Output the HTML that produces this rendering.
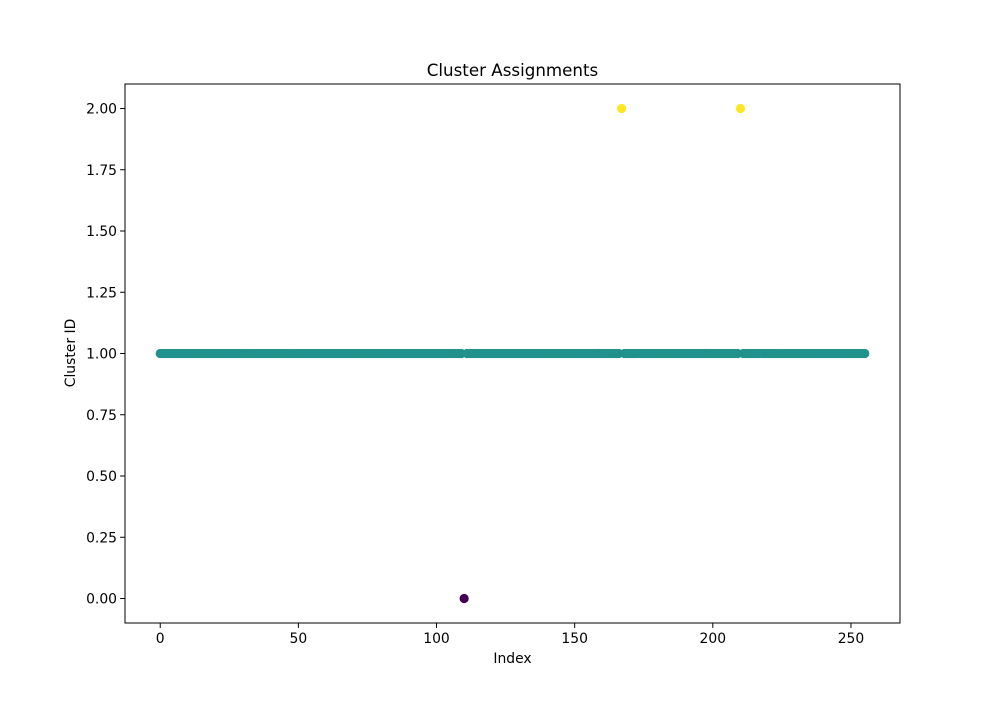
<!DOCTYPE html>
<html><head><meta charset="utf-8"><style>
body{margin:0;background:#fff;}
svg text{font-family:"DejaVu Sans","Liberation Sans",sans-serif;fill:#000;}
</style></head><body>
<svg id="chart" width="1000" height="700" xmlns="http://www.w3.org/2000/svg">
<rect width="1000" height="700" fill="#fff"/>
<text x="512.5" y="76" font-size="16.7" text-anchor="middle">Cluster Assignments</text>
<g id="marks"></g>
<g id="axes"></g>
<text x="512.5" y="663" font-size="13.9" text-anchor="middle">Index</text>
<text transform="translate(75,353) rotate(-90)" font-size="13.9" text-anchor="middle">Cluster ID</text>
</svg>
<script>
const labels = [
1,1,1,1,1,1,1,1,1,1,
1,1,1,1,1,1,1,1,1,1,
1,1,1,1,1,1,1,1,1,1,
1,1,1,1,1,1,1,1,1,1,
1,1,1,1,1,1,1,1,1,1,
1,1,1,1,1,1,1,1,1,1,
1,1,1,1,1,1,1,1,1,1,
1,1,1,1,1,1,1,1,1,1,
1,1,1,1,1,1,1,1,1,1,
1,1,1,1,1,1,1,1,1,1,
1,1,1,1,1,1,1,1,1,1,
0,1,1,1,1,1,1,1,1,1,
1,1,1,1,1,1,1,1,1,1,
1,1,1,1,1,1,1,1,1,1,
1,1,1,1,1,1,1,1,1,1,
1,1,1,1,1,1,1,1,1,1,
1,1,1,1,1,1,1,2,1,1,
1,1,1,1,1,1,1,1,1,1,
1,1,1,1,1,1,1,1,1,1,
1,1,1,1,1,1,1,1,1,1,
1,1,1,1,1,1,1,1,1,1,
2,1,1,1,1,1,1,1,1,1,
1,1,1,1,1,1,1,1,1,1,
1,1,1,1,1,1,1,1,1,1,
1,1,1,1,1,1,1,1,1,1,
1,1,1,1,1,1];
const xTicks = [0,50,100,150,200,250];
const yTicks = [0,0.25,0.5,0.75,1,1.25,1.5,1.75,2];
const clusterColors = ["#440154","#21918c","#fde725"];

const L=125,R=900,T=84,B=623;
const n=labels.length;
const xmin=-(n-1)*0.05, xmax=(n-1)*1.05;
const ymin=Math.min(...labels), ymax=Math.max(...labels);
const yr=ymax-ymin||1;
const y0=ymin-yr*0.05, y1=ymax+yr*0.05;
const X=v=>L+(v-xmin)/(xmax-xmin)*(R-L);
const Y=v=>B-(v-y0)/(y1-y0)*(B-T);
const NS="http://www.w3.org/2000/svg";
const marks=document.getElementById('marks');
labels.forEach((c,i)=>{
  const e=document.createElementNS(NS,'circle');
  e.setAttribute('cx',X(i));e.setAttribute('cy',Y(c));e.setAttribute('r',4.6);
  e.setAttribute('fill',clusterColors[c]);
  
  
  marks.appendChild(e);
});
const axes=document.getElementById('axes');
const fr=document.createElementNS(NS,'rect');
fr.setAttribute('x',L);fr.setAttribute('y',T);fr.setAttribute('width',R-L);fr.setAttribute('height',B-T);
fr.setAttribute('fill','none');fr.setAttribute('stroke','#000');fr.setAttribute('stroke-width','1');


axes.appendChild(fr);
xTicks.forEach(t=>{
  const x=X(t);
  const l=document.createElementNS(NS,'line');
  l.setAttribute('x1',x);l.setAttribute('x2',x);l.setAttribute('y1',B);l.setAttribute('y2',B+4.9);l.setAttribute('stroke','#000');
  
  
  axes.appendChild(l);
  const s=document.createElementNS(NS,'text');
  s.setAttribute('x',x);s.setAttribute('y',B+20);s.setAttribute('font-size','13.9');s.setAttribute('text-anchor','middle');
  s.textContent=t;
  
  
  axes.appendChild(s);
});
yTicks.forEach(t=>{
  const y=Y(t);
  const l=document.createElementNS(NS,'line');
  l.setAttribute('x1',L-4.9);l.setAttribute('x2',L);l.setAttribute('y1',y);l.setAttribute('y2',y);l.setAttribute('stroke','#000');
  
  
  axes.appendChild(l);
  const s=document.createElementNS(NS,'text');
  s.setAttribute('x',L-8);s.setAttribute('y',y+5);s.setAttribute('font-size','13.9');s.setAttribute('text-anchor','end');
  s.textContent=t.toFixed(2);
  
  
  axes.appendChild(s);
});
</script>
</body></html>
